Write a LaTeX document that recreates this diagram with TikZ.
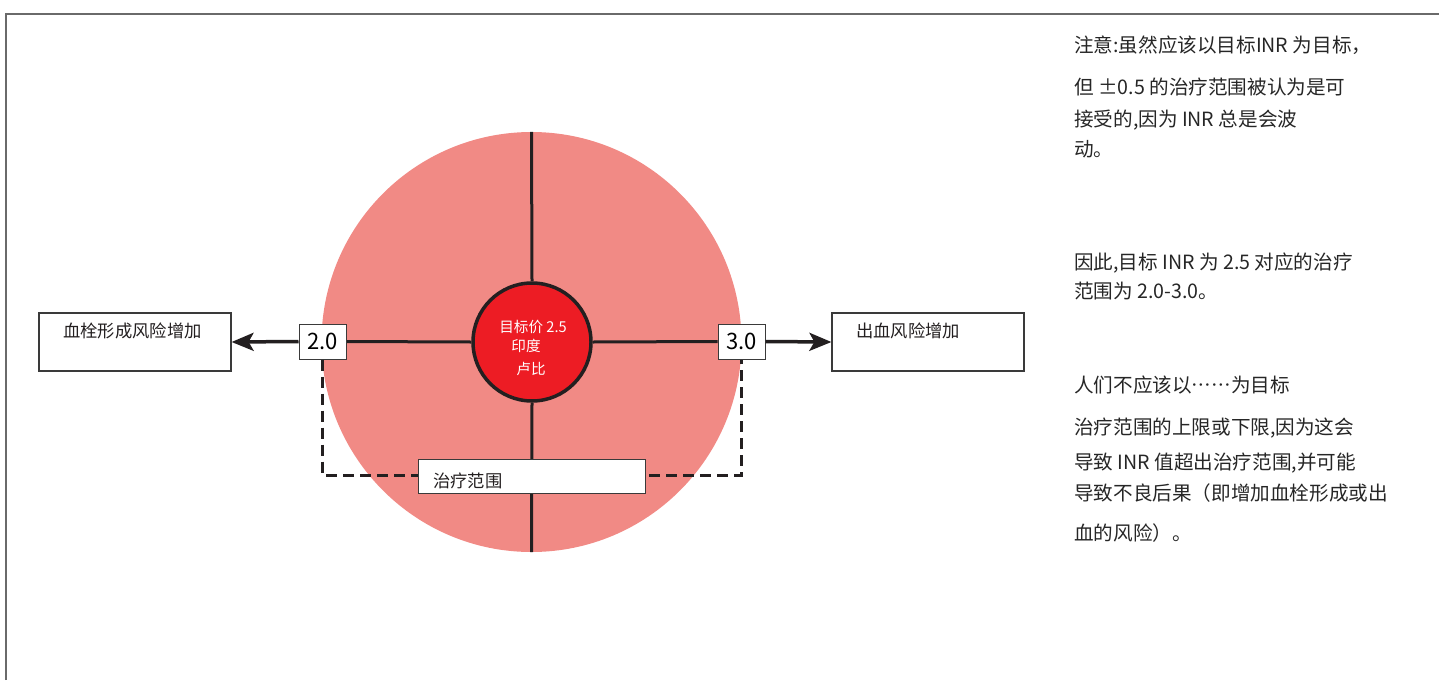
\documentclass[tikz,border=0pt]{standalone}
\usepackage{fontspec}
\setmainfont[Script=CJK,Language=Chinese Simplified]{Noto Sans CJK SC}
\usetikzlibrary{arrows.meta}
\definecolor{bigpink}{HTML}{F18A85}
\definecolor{innerred}{HTML}{ED1C24}
\definecolor{ink}{HTML}{231F20}
\definecolor{framegray}{HTML}{6A6A6A}
\definecolor{boxgray}{HTML}{3A3A3A}
\tikzset{
  axis/.style={draw=ink, line width=3pt},
  valbox/.style={draw=boxgray, line width=1pt, fill=white, minimum width=47pt, minimum height=35pt, inner sep=0pt, font=\fontsize{22}{24}\selectfont},
  riskbox/.style={draw=boxgray, line width=1.2pt, fill=white, minimum width=192pt, minimum height=58pt, inner sep=0pt},
  risktxt/.style={anchor=west, inner sep=0pt, font=\fontsize{17.3}{20}\selectfont, text=ink},
  note/.style={anchor=west, inner sep=0pt, font=\fontsize{19.6}{22}\selectfont, text=black!85},
  intxt/.style={inner sep=0pt, font=\fontsize{14.6}{16}\selectfont, text=white},
  arrowline/.style={draw=ink, line width=3.5pt, -{Stealth[length=22pt,width=18pt,inset=5pt]}},
  rangeline/.style={draw=ink, line width=3pt, dash pattern=on 11pt off 6pt},
}
\begin{document}
\begin{tikzpicture}[x=1pt,y=-1pt]
\useasboundingbox (0,0) rectangle (1439,680);
% frame
\draw[framegray, line width=2pt] (6,680) -- (6,14) -- (1439,14);
% big circle
\node[circle, fill=bigpink, minimum size=420pt, inner sep=0pt] (big) at (531.5,342) {};
% value boxes (placed first for anchors)
\path (322.5,341.5) node[valbox] (b20) {2.0};
\path (741.5,341.5) node[valbox] (b30) {3.0};
% inner circle
\node[circle, fill=innerred, draw=ink, line width=3.5pt, minimum size=118pt, inner sep=0pt] (inner) at (532,342) {};
% axes
\draw[axis] (big.north) -- (inner.north);
\draw[axis] (inner.south) -- (big.south);
\draw[axis] (b20.east) -- (inner.west);
\draw[axis] (inner.east) -- (b30.west);
% redraw value boxes on top
\path (322.5,341.5) node[valbox] {2.0};
\path (741.5,341.5) node[valbox] {3.0};
% inner texts
\node[intxt] (t1) at (533,327) {目标价 2.5};
\node[intxt] (t2) at (526,346) {印度};
\node[intxt] (t3) at (531,369) {卢比};
% risk boxes
\node[riskbox] (lbox) at (135,342) {};
\node[riskbox] (rbox) at (928,342) {};
\node[risktxt] (ltxt) at (63,331) {血栓形成风险增加};
\node[risktxt] (rtxt) at (856,331) {出血风险增加};
\draw[arrowline] (b20.west) -- (lbox.east);
\draw[arrowline] (b30.east) -- (rbox.west);
% therapeutic range
\coordinate (dr) at (741.5,475);
\draw[rangeline] (b20.south) |- (dr) -- (b30.south);
\node[draw=boxgray, line width=1pt, fill=white, minimum width=227pt, minimum height=34pt, inner sep=0pt] (range) at (531.5,476) {};
\node[risktxt] (rangetxt) at (433,481) {治疗范围};
% notes
\node[note] (n1) at (1074,45) {注意:虽然应该以目标INR 为目标，};
\node[note] (n2) at (1074,87) {但 ±0.5 的治疗范围被认为是可};
\node[note] (n3) at (1074,120) {接受的,因为 INR 总是会波};
\node[note] (n4) at (1074,149) {动。};
\node[note] (n5) at (1074,263) {因此,目标 INR 为 2.5 对应的治疗};
\node[note] (n6) at (1074,291) {范围为 2.0-3.0。};
\node[note] (n7) at (1074,385) {人们不应该以……为目标};
\node[note] (n8) at (1074,428) {治疗范围的上限或下限,因为这会};
\node[note] (n9) at (1074,463) {导致 INR 值超出治疗范围,并可能};
\node[note] (n10) at (1074,493) {导致不良后果（即增加血栓形成或出};
\node[note] (n11) at (1074,533) {血的风险）。};
\end{tikzpicture}
\end{document}
